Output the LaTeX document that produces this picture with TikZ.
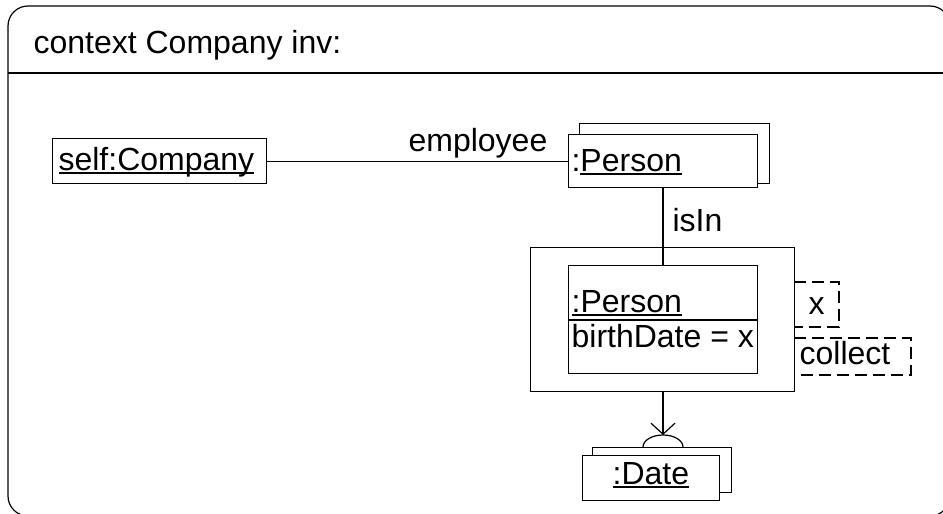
\documentclass[tikz,border=0pt]{standalone}
\usepackage{fontspec}
\setmainfont{Liberation Sans}
\usetikzlibrary{arrows.meta}

% underline at a fixed distance below the baseline, crossing descenders
\newcommand{\ulbox}[1]{\setbox0\hbox{#1}\rlap{\rule[-3.5pt]{\wd0}{1.2pt}}\box0}

\begin{document}
\begin{tikzpicture}[x=1pt,y=-1pt,line width=1.2pt,
    every node/.style={font=\fontsize{32}{38}\selectfont},
    txt/.style={anchor=base west,inner sep=0pt},
    objbox/.style={draw,rectangle,inner sep=0pt,anchor=north west},
    noteline/.style={dash pattern=on 12pt off 6pt}]
  \useasboundingbox (0,0) rectangle (943,514);

  % frame with its heading compartment
  \draw[rounded corners=20pt] (8,6) rectangle (950,516);
  \draw (8,73) -- (950,73);
  \node[txt] (head) at (33,53) {context Company inv:};

  % self:Company
  \node[objbox,minimum width=214pt,minimum height=45pt] (self) at (52,138) {};
  \node[txt] (selft) at (58,170) {\ulbox{self:Company}};

  % :Person, a stacked multi-object
  \node[objbox,fill=white,minimum width=190pt,minimum height=60pt] (pback) at (579,123) {};
  \node[objbox,fill=white,minimum width=189pt,minimum height=53pt] (person) at (568,134) {};
  \node[txt] (persont) at (571,171) {:\ulbox{Person}};

  % link self -- employee
  \draw (self.east) -- (person.west |- self.east);
  \node[txt] (emp) at (408,151) {employee};

  % collection box around the inner :Person
  \node[objbox,minimum width=264pt,minimum height=144pt] (coll) at (530,247) {};
  \node[objbox,minimum width=189pt,minimum height=108pt] (inner) at (568,265) {};
  \draw (inner.west |- 0,320) -- (inner.east |- 0,320);
  \node[txt] (innert) at (571,312) {\ulbox{:Person}};
  \node[txt] (attr) at (571,347) {birthDate = x};

  % isIn link
  \draw (person.south -| 663,0) -- (inner.north -| 663,0);
  \node[txt] (isin) at (672,231) {isIn};

  % dashed annotations on the collection box
  \draw[noteline] (794,282) -- (839,282) -- (839,327) -- (794,327);
  \node[txt] (xv) at (808,314) {x};
  \draw[noteline] (794,338) -- (911,338) -- (911,375) -- (794,375);
  \node[txt] (collect) at (799,364) {collect};

  % :Date, a stacked multi-object
  \node[objbox,fill=white,minimum width=139pt,minimum height=45pt] (dback) at (592,447) {};
  \node[objbox,fill=white,minimum width=137pt,minimum height=45pt] (date) at (582,455) {};
  \node[txt] (datet) at (612,484) {\ulbox{:Date}};

  % collect arrow into the bump on :Date
  \coordinate (bump) at (663,435);
  \draw (643,447) arc[start angle=180,end angle=360,x radius=20,y radius=12];
  \draw[-{Straight Barb[length=11pt,width=24pt]}] (coll.south -| bump) -- (bump);
\end{tikzpicture}
\end{document}
